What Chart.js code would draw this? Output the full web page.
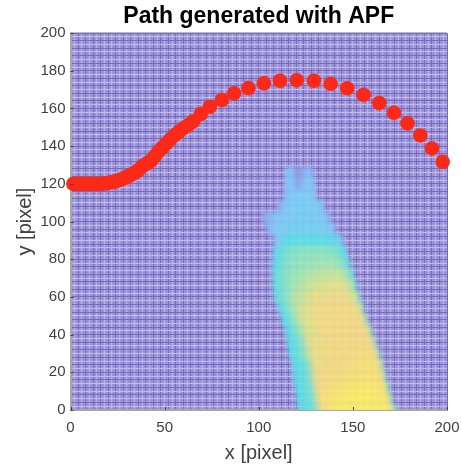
<!DOCTYPE html>
<html>
<head>
<meta charset="utf-8">
<title>Path generated with APF</title>
<script src="https://cdn.jsdelivr.net/npm/chart.js@4"></script>
<style>
html, body { margin: 0; padding: 0; background: #fff; }
canvas { display: block; }
</style>
</head>
<body>
<canvas id="chartPath" width="461" height="467"></canvas>
<script>
var xLabels = [0, 50, 100, 150, 200];
var yLabels = [0, 20, 40, 60, 80, 100, 120, 140, 160, 180, 200];

var pathX = [1.5, 3, 4.5, 6, 7.5, 9, 10.5, 12, 13.5, 15, 16.5, 18, 19.5, 21, 22.5, 24, 25.5, 27, 28.5, 30, 31.5, 33, 34.5, 36, 37.8, 39.5, 41, 43, 44.8, 46.6, 48.8, 51, 53, 55.4, 57.5, 59.8, 62.5, 65, 69.1, 74, 80.4, 86.9, 94.5, 102.7, 111.3, 120.2, 129.3, 138.2, 147, 155.7, 164, 171.8, 179, 185.8, 192, 197.7];
var pathY = [120, 120, 120, 120, 120, 120, 120, 120, 120, 120, 120.1, 120.2, 120.4, 120.7, 121, 121.4, 121.9, 122.4, 123, 123.7, 124.5, 125.3, 126.2, 127.2, 129, 130.2, 131, 132.6, 134.8, 137, 139.2, 141.5, 143.6, 145.9, 147.6, 149.4, 151.2, 153, 157, 160.9, 164.5, 168, 170.8, 173.3, 174.7, 175, 174.7, 173.1, 170.7, 167.3, 162.9, 157.7, 152.1, 145.7, 138.8, 131.7];

// intensity field, one row per y, read across the plume from its left to right edge
var fieldY = [0, 6, 12, 18, 24, 30, 36, 42, 48, 54, 60, 66, 72, 78, 84, 90, 96, 102, 108, 114, 120, 126];
var fieldLeft = [121, 120, 119, 118, 117.5, 116, 115, 114, 112, 110, 108, 107.5, 107, 107, 107.5, 108, 104, 102, 110, 113, 113.5, 114];
var fieldRight = [173, 171, 169.5, 168, 166.5, 164.5, 162.5, 160.5, 158, 156, 154, 152, 150.5, 148.5, 147, 145, 141, 138, 135, 131, 130, 129];
var fieldAcross = [0, 0.05, 0.15, 0.25, 0.45, 0.65, 0.85, 0.95, 1];
var fieldLevels = [
	[.42, .45, .5, .9, 1, 1, 1, .95, .42],
	[.42, .45, .5, .9, .98, 1, 1, .95, .42],
	[.42, .45, .5, .85, .92, .98, .98, .9, .42],
	[.42, .45, .5, .85, .88, .92, .95, .88, .42],
	[.42, .45, .5, .8, .86, .88, .92, .88, .42],
	[.42, .45, .55, .8, .86, .86, .88, .85, .42],
	[.42, .45, .55, .78, .85, .86, .86, .85, .42],
	[.42, .45, .58, .75, .85, .86, .86, .82, .42],
	[.42, .45, .6, .75, .84, .86, .85, .8, .42],
	[.42, .45, .6, .72, .82, .85, .84, .78, .42],
	[.42, .48, .58, .68, .78, .82, .82, .72, .42],
	[.42, .48, .55, .63, .72, .76, .78, .65, .42],
	[.42, .48, .55, .6, .66, .7, .7, .55, .42],
	[.38, .45, .52, .58, .6, .63, .62, .5, .38],
	[.3, .42, .5, .55, .58, .58, .55, .45, .32],
	[.22, .3, .42, .45, .46, .46, .43, .35, .2],
	[.15, .25, .3, .34, .36, .36, .33, .28, .15],
	[.12, .2, .26, .3, .33, .34, .32, .28, .12],
	[.15, .22, .27, .3, .34, .34, .32, .28, .15],
	[.15, .24, .28, .3, .32, .32, .32, .26, .15],
	[.12, .28, .32, .3, .12, .28, .32, .28, .1],
	[.1, .28, .3, .25, .02, .2, .28, .25, .08]
];

var colorStops = [
	[0, 150, 140, 215],
	[.15, 140, 165, 240],
	[.3, 130, 205, 250],
	[.45, 90, 225, 230],
	[.6, 150, 235, 185],
	[.75, 225, 232, 135],
	[.85, 250, 222, 130],
	[1, 255, 240, 100]
];

function levelColor(v) {
	for (var i = 1; i < colorStops.length; i++) {
		if (v <= colorStops[i][0]) {
			var a = colorStops[i - 1], b = colorStops[i];
			var t = (v - a[0]) / (b[0] - a[0]);
			return 'rgb(' + Math.round(a[1] + (b[1] - a[1]) * t) + ',' + Math.round(a[2] + (b[2] - a[2]) * t) + ',' + Math.round(a[3] + (b[3] - a[3]) * t) + ')';
		}
	}
	return 'rgb(255,240,100)';
}

var fieldPlugin = {
	id: 'field',
	beforeDraw: function (chart) {
		var area = chart.chartArea;
		chart.ctx.save();
		chart.ctx.fillStyle = '#a49bd8';
		chart.ctx.fillRect(area.left, area.top, area.width, area.height);
		chart.ctx.restore();
	},
	beforeDatasetsDraw: function (chart) {
		var x = chart.scales.x, y = chart.scales.y, area = chart.chartArea;
		var ctx = chart.ctx;

		// soften the mesh a little, the source is a resampled screenshot
		ctx.save();
		ctx.beginPath();
		ctx.rect(area.left + 1, area.top, area.width - 1, area.height - 1);
		ctx.clip();
		ctx.filter = 'blur(0.4px)';
		ctx.drawImage(chart.canvas, 0, 0);
		ctx.restore();

		var off = document.createElement('canvas');
		off.width = chart.width;
		off.height = chart.height;
		var o = off.getContext('2d');
		fieldY.forEach(function (rowY, r) {
			var x0 = x.getPixelForValue(fieldLeft[r]);
			var x1 = x.getPixelForValue(fieldRight[r]);
			var grad = o.createLinearGradient(x0, 0, x1, 0);
			fieldAcross.forEach(function (f, i) {
				grad.addColorStop(f, levelColor(fieldLevels[r][i]));
			});
			var top = y.getPixelForValue(rowY + 3);
			var bottom = r === 0 ? area.bottom + 12 : y.getPixelForValue(rowY - 3);
			o.fillStyle = grad;
			o.fillRect(x0, top, x1 - x0, bottom - top);
		});
		ctx.save();
		ctx.beginPath();
		ctx.rect(area.left, area.top, area.width, area.height);
		ctx.clip();
		ctx.filter = 'blur(2px)';
		ctx.globalAlpha = 0.92;
		ctx.drawImage(off, 0, 0);
		ctx.restore();
	},
	afterDatasetsDraw: function (chart) {
		var x = chart.scales.x, y = chart.scales.y, area = chart.chartArea, ctx = chart.ctx;
		ctx.save();
		ctx.strokeStyle = '#b4b4b4';
		ctx.lineWidth = 1;
		ctx.beginPath();
		ctx.moveTo(area.left, area.top - 0.5);
		ctx.lineTo(area.right, area.top - 0.5);
		ctx.stroke();
		ctx.strokeStyle = '#404040';
		ctx.beginPath();
		xLabels.forEach(function (v) {
			var p = Math.round(x.getPixelForValue(v)) + 0.5;
			ctx.moveTo(p, area.bottom);
			ctx.lineTo(p, area.bottom - 3);
		});
		yLabels.forEach(function (v) {
			var p = Math.round(y.getPixelForValue(v)) + 0.5;
			ctx.moveTo(area.left, p);
			ctx.lineTo(area.left + 3, p);
		});
		ctx.stroke();
		ctx.restore();
	}
};

// plaid of the resampled mesh: dark line, faint, light line, faint
function meshColor(c) {
	var n = c.tick ? c.tick.value % 4 : 1;
	if (n === 0) return 'rgb(118, 104, 200)';
	if (n === 2) return 'rgb(192, 187, 234)';
	return 'rgba(140, 130, 205, 0.3)';
}

function meshGrid() {
	return {
		color: meshColor,
		lineWidth: 1,
		drawTicks: false
	};
}

var ctx = document.getElementById('chartPath').getContext('2d');
var chart = new Chart(ctx, {
	type: 'scatter',
	data: {
		datasets: [{
			label: 'Path',
			data: pathX.map(function (v, i) { return { x: v, y: pathY[i] }; }),
			backgroundColor: '#fb2a18',
			borderColor: '#fb2a18',
			pointRadius: 7.3,
			borderWidth: 0,
			clip: false
		}]
	},
	options: {
		responsive: false,
		animation: false,
		layout: { padding: { right: 14 } },
		plugins: {
			legend: { display: false },
			tooltip: { enabled: false },
			title: {
				display: true,
				fullSize: false,
				text: 'Path generated with APF',
				color: '#000',
				font: { family: '"Liberation Sans"', size: 23, weight: 'bold' },
				padding: { top: 3, bottom: 2.5 }
			}
		},
		scales: {
			x: {
				type: 'linear',
				min: 0,
				max: 200,
				afterFit: function (s) {
					s.height = 57;
					s.paddingLeft = 0;
					s.paddingRight = 0;
				},
				grid: meshGrid(),
				border: { color: '#a6a6a6', width: 2 },
				ticks: {
					stepSize: 1,
					autoSkip: false,
					maxRotation: 0,
					padding: 9,
					color: '#404040',
					font: { family: '"Liberation Sans"', size: 15 },
					callback: function (v) { return xLabels.indexOf(v) >= 0 ? String(v) : ''; }
				},
				title: {
					display: true,
					text: 'x [pixel]',
					color: '#404040',
					font: { family: '"Liberation Sans"', size: 20 },
					padding: { top: 4, bottom: 2 }
				}
			},
			y: {
				type: 'linear',
				min: 0,
				max: 200,
				afterFit: function (s) {
					s.width = 70.5;
					s.paddingTop = 0;
					s.paddingBottom = 0;
				},
				grid: meshGrid(),
				border: { color: '#a6a6a6', width: 2 },
				ticks: {
					stepSize: 1,
					autoSkip: false,
					padding: 5,
					color: '#404040',
					font: { family: '"Liberation Sans"', size: 15 },
					callback: function (v) { return yLabels.indexOf(v) >= 0 ? String(v) : ''; }
				},
				title: {
					display: true,
					text: 'y [pixel]',
					color: '#404040',
					font: { family: '"Liberation Sans"', size: 20 },
					padding: { top: 13, bottom: 0 }
				}
			}
		}
	},
	plugins: [fieldPlugin]
});
</script>
</body>
</html>
